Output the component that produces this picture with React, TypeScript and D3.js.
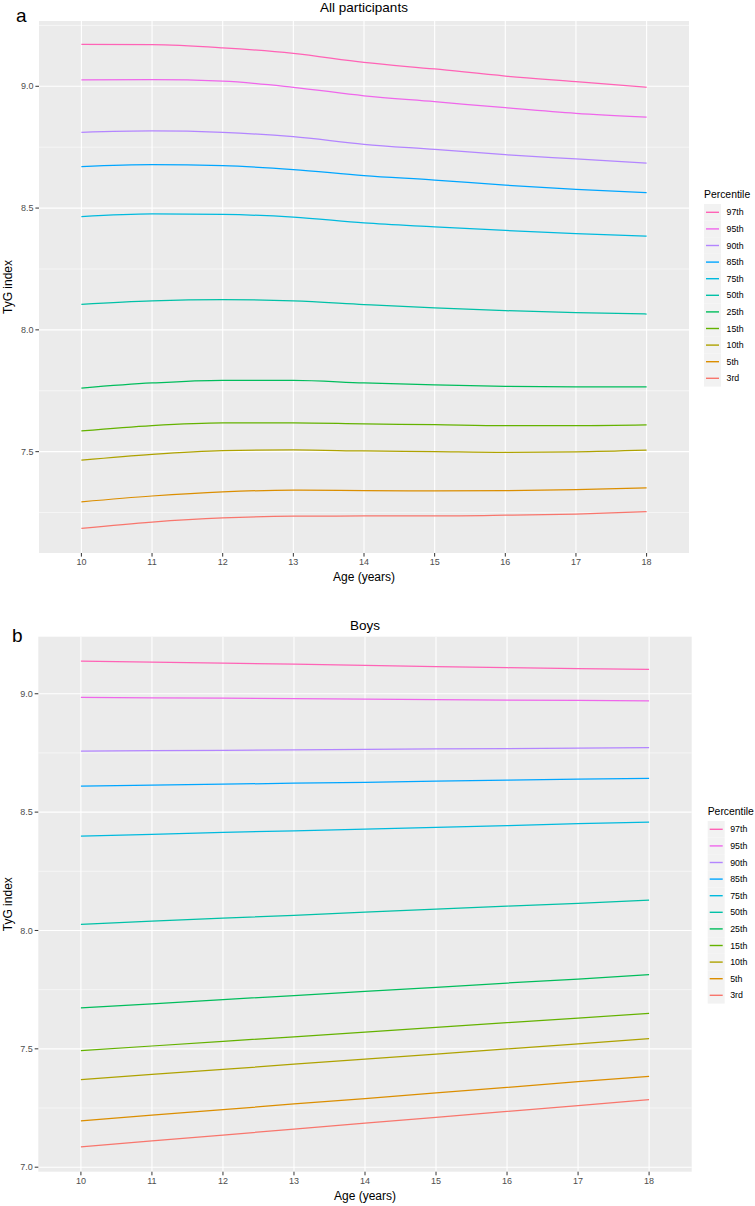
import React from "react";
import * as d3 from "d3";

const ages = [10, 11, 12, 13, 14, 15, 16, 17, 18];
const percentiles = ["97th", "95th", "90th", "85th", "75th", "50th", "25th", "15th", "10th", "5th", "3rd"];
const colors = ["#FF63B6", "#EF67EB", "#B385FF", "#00A6FF", "#00BADE", "#00C1A7", "#00BD5C", "#64B200", "#AEA200", "#DB8E00", "#F8766D"];

// Panel a: All participants
const all97 = [9.172, 9.171, 9.158, 9.135, 9.098, 9.071, 9.042, 9.019, 8.996];
const all95 = [9.026, 9.027, 9.021, 8.996, 8.961, 8.937, 8.912, 8.889, 8.873];
const all90 = [8.811, 8.817, 8.811, 8.793, 8.762, 8.741, 8.719, 8.702, 8.685];
const all85 = [8.670, 8.678, 8.674, 8.658, 8.633, 8.615, 8.594, 8.577, 8.563];
const all75 = [8.465, 8.476, 8.474, 8.463, 8.439, 8.423, 8.408, 8.395, 8.385];
const all50 = [8.105, 8.119, 8.124, 8.119, 8.104, 8.090, 8.079, 8.071, 8.065];
const all25 = [7.761, 7.782, 7.793, 7.793, 7.782, 7.774, 7.768, 7.766, 7.766];
const all15 = [7.585, 7.607, 7.618, 7.618, 7.614, 7.611, 7.607, 7.607, 7.610];
const all10 = [7.465, 7.489, 7.504, 7.507, 7.503, 7.500, 7.497, 7.499, 7.506];
const all5 = [7.294, 7.318, 7.335, 7.342, 7.340, 7.339, 7.340, 7.344, 7.351];
const all3 = [7.185, 7.211, 7.228, 7.235, 7.236, 7.236, 7.239, 7.244, 7.254];

// Panel b: Boys
const boys97 = [9.138, 9.134, 9.129, 9.125, 9.120, 9.115, 9.110, 9.106, 9.103];
const boys95 = [8.985, 8.983, 8.981, 8.979, 8.977, 8.975, 8.973, 8.972, 8.970];
const boys90 = [8.758, 8.760, 8.761, 8.763, 8.765, 8.767, 8.768, 8.770, 8.772];
const boys85 = [8.610, 8.614, 8.618, 8.622, 8.626, 8.631, 8.635, 8.639, 8.643];
const boys75 = [8.399, 8.406, 8.414, 8.421, 8.428, 8.436, 8.443, 8.451, 8.458];
const boys50 = [8.026, 8.039, 8.052, 8.064, 8.077, 8.090, 8.103, 8.115, 8.128];
const boys25 = [7.673, 7.690, 7.708, 7.725, 7.743, 7.760, 7.778, 7.795, 7.813];
const boys15 = [7.492, 7.512, 7.532, 7.551, 7.571, 7.591, 7.611, 7.630, 7.650];
const boys10 = [7.370, 7.392, 7.413, 7.435, 7.457, 7.478, 7.500, 7.521, 7.543];
const boys5 = [7.196, 7.220, 7.243, 7.267, 7.290, 7.314, 7.337, 7.361, 7.384];
const boys3 = [7.086, 7.111, 7.136, 7.161, 7.186, 7.211, 7.236, 7.260, 7.285];

const allSeries = [all97, all95, all90, all85, all75, all50, all25, all15, all10, all5, all3];
const boysSeries = [boys97, boys95, boys90, boys85, boys75, boys50, boys25, boys15, boys10, boys5, boys3];

const allYTicks = [7.5, 8.0, 8.5, 9.0];
const allYMinor = [7.25, 7.75, 8.25, 8.75, 9.25];
const boysYTicks = [7.0, 7.5, 8.0, 8.5, 9.0];
const boysYMinor = [7.25, 7.75, 8.25, 8.75];

const FONT = "'Liberation Sans', Arial, Helvetica, sans-serif";

type PanelProps = {
  tag: string;
  tagX: number;
  tagY: number;
  title: string;
  titleY: number;
  left: number;
  right: number;
  top: number;
  bottom: number;
  yDomain: [number, number];
  yTicks: number[];
  yMinor: number[];
  series: number[][];
  smooth: boolean;
  tickLabelY: number;
  axisTitleY: number;
  legendX: number;
  legendTitleY: number;
  legendTop: number;
};

function Panel(p: PanelProps) {
  const x = d3.scaleLinear().domain([9.4, 18.6]).range([p.left, p.right]);
  const y = d3.scaleLinear().domain(p.yDomain).range([p.bottom, p.top]);
  const line = d3
    .line<number>()
    .x((_, i) => x(ages[i]))
    .y((d) => y(d))
    .curve(p.smooth ? d3.curveMonotoneX : d3.curveLinear);
  const cx = (p.left + p.right) / 2;
  const cy = (p.top + p.bottom) / 2;
  const keyH = 16.6;
  const keyW = 17;
  return (
    <g>
      <text x={p.tagX} y={p.tagY} fontSize={19} fontFamily={FONT} fill="#000">{p.tag}</text>
      <text x={cx} y={p.titleY} fontSize={13.5} fontFamily={FONT} textAnchor="middle" fill="#000">{p.title}</text>
      <rect x={p.left} y={p.top} width={p.right - p.left} height={p.bottom - p.top} fill="#EBEBEB" />
      {p.yMinor.map((v) => (
        <line key={"ym" + v} x1={p.left} x2={p.right} y1={y(v)} y2={y(v)} stroke="#fff" strokeWidth={0.55} />
      ))}
      {p.yTicks.map((v) => (
        <line key={"yM" + v} x1={p.left} x2={p.right} y1={y(v)} y2={y(v)} stroke="#fff" strokeWidth={1.1} />
      ))}
      {ages.map((a) => (
        <line key={"xM" + a} x1={x(a)} x2={x(a)} y1={p.top} y2={p.bottom} stroke="#fff" strokeWidth={1.1} />
      ))}
      {p.series.map((s, i) => (
        <path key={"s" + i} d={line(s) || ""} fill="none" stroke={colors[i]} strokeWidth={1.25} />
      ))}
      {p.yTicks.map((v) => (
        <g key={"yt" + v}>
          <line x1={p.left - 3.6} x2={p.left} y1={y(v)} y2={y(v)} stroke="#333" strokeWidth={1} />
          <text x={p.left - 5.5} y={y(v)} dy="0.35em" fontSize={9} fontFamily={FONT} textAnchor="end" fill="#4D4D4D">
            {v.toFixed(1)}
          </text>
        </g>
      ))}
      {ages.map((a) => (
        <g key={"xt" + a}>
          <line x1={x(a)} x2={x(a)} y1={p.bottom} y2={p.bottom + 3.6} stroke="#333" strokeWidth={1} />
          <text x={x(a)} y={p.tickLabelY} fontSize={9} fontFamily={FONT} textAnchor="middle" fill="#4D4D4D">
            {a}
          </text>
        </g>
      ))}
      <text x={cx} y={p.axisTitleY} fontSize={12} fontFamily={FONT} textAnchor="middle" fill="#000">Age (years)</text>
      <text
        transform={`translate(${12},${cy}) rotate(-90)`}
        fontSize={12}
        fontFamily={FONT}
        textAnchor="middle"
        fill="#000"
      >
        TyG index
      </text>
      <text x={p.legendX} y={p.legendTitleY} fontSize={10.4} fontFamily={FONT} fill="#000">Percentile</text>
      {percentiles.map((lab, i) => {
        const ky = p.legendTop + i * keyH;
        return (
          <g key={"lg" + lab}>
            <rect x={p.legendX} y={ky} width={keyW} height={keyH} fill="#F2F2F2" />
            <line x1={p.legendX + 2} x2={p.legendX + keyW - 2} y1={ky + keyH / 2} y2={ky + keyH / 2} stroke={colors[i]} strokeWidth={1.4} />
            <text x={p.legendX + keyW + 5.5} y={ky + keyH / 2} dy="0.35em" fontSize={8.8} fontFamily={FONT} fill="#000">
              {lab}
            </text>
          </g>
        );
      })}
    </g>
  );
}

export default function App() {
  return (
    <svg
      width={755}
      height={1206}
      style={{ position: "absolute", left: 0, top: 0, background: "#fff" }}
    >
      <rect x={0} y={0} width={755} height={1206} fill="#fff" />
      <Panel
        tag="a"
        tagX={16}
        tagY={22}
        title="All participants"
        titleY={12}
        left={39}
        right={689}
        top={21}
        bottom={553}
        yDomain={[7.084, 9.268]}
        yTicks={allYTicks}
        yMinor={allYMinor}
        series={allSeries}
        smooth={true}
        tickLabelY={565}
        axisTitleY={581}
        legendX={704}
        legendTitleY={198}
        legendTop={204}
      />
      <Panel
        tag="b"
        tagX={12}
        tagY={642}
        title="Boys"
        titleY={630}
        left={38.3}
        right={691.7}
        top={636.7}
        bottom={1171.7}
        yDomain={[6.981, 9.241]}
        yTicks={boysYTicks}
        yMinor={boysYMinor}
        series={boysSeries}
        smooth={false}
        tickLabelY={1183.5}
        axisTitleY={1200}
        legendX={707.7}
        legendTitleY={815}
        legendTop={821}
      />
    </svg>
  );
}
